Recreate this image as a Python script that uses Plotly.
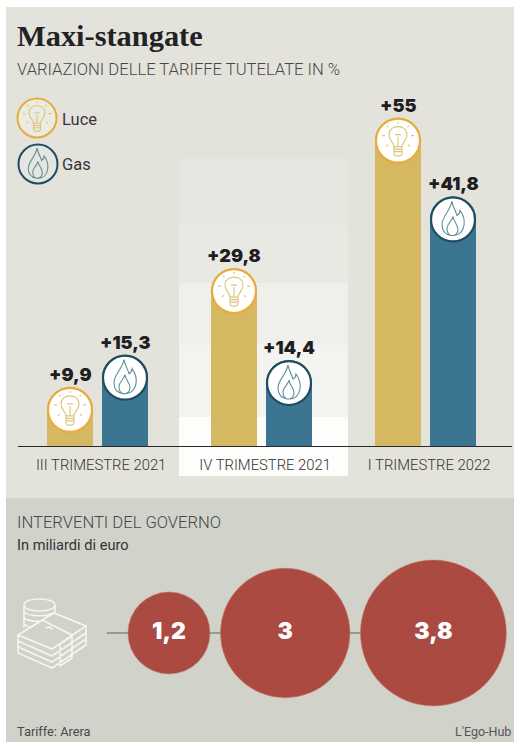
import re
import plotly.graph_objects as go

W, H = 514, 742

# Tariff changes, percent
quarters = ["III TRIMESTRE 2021", "IV TRIMESTRE 2021", "I TRIMESTRE 2022"]
luce = [9.9, 29.8, 55]
gas = [15.3, 14.4, 41.8]
luce_labels = ["+9,9", "+29,8", "+55"]
gas_labels = ["+15,3", "+14,4", "+41,8"]

# Government measures, billions of euro
measures = [1.2, 3, 3.8]
measure_labels = ["1,2", "3", "3,8"]

INK = "#26262a"
GOLD, GOLD_RING, GOLD_ICON = "#d6b862", "#e8ab3c", "#dcc578"
TEAL, TEAL_RING, TEAL_ICON = "#3b7591", "#1f4c62", "#5f8f9c"
SANS = "Roboto"
HEAVY = "Inter"

# Vertical scale of the bar axis and horizontal spacing of the groups, in pixels
PX_PER_POINT = 5.97
BASELINE = 446
GROUP_STEP = 164
GROUP0 = 97.5
BAR_OFFSET = 27.5 / GROUP_STEP
BAR_WIDTH = 46 / GROUP_STEP


def local_path(d, scale=1.0, dx=0.0, dy=0.0, flip=True):
    """Scale an icon path; y is written downward and flipped for pixel-sized shapes."""
    out = []
    for token in re.findall(r"[MLCQZ]|-?\d+\.?\d*", d):
        if token in "MLCQZ":
            out.append([token, []])
        else:
            out[-1][1].append(float(token))
    parts = []
    for cmd, nums in out:
        pts = []
        for i in range(0, len(nums), 2):
            px = nums[i] * scale + dx
            py = nums[i + 1] * scale + dy
            pts.append(f"{px:.2f},{-py if flip else py:.2f}")
        parts.append(cmd + " ".join(pts))
    return " ".join(parts)


BULB = (
    "M-4,6 C-4,2 -9,0 -9,-6 C-9,-12 -4,-14 0,-14 C4,-14 9,-12 9,-6 C9,0 4,2 4,6 Z "
    "M-4,6 L-4,13 C-4,16 4,16 4,13 L4,6 "
    "M-4,8.5 L4,8.5 M-4,11 L4,11 "
    "M0,6 L0,-4 M-3,-6 L3,-6 "
    "M0,-19 L0,-17 M-11,-15 L-9.5,-13.5 M11,-15 L9.5,-13.5 "
    "M-16,-5 L-13,-5 M16,-5 L13,-5 M-12,6 L-10,4 M12,6 L10,4"
)
FLAME = (
    "M-1,-18 C0,-12 3,-8 4,-4 C6,-5 7,-7 7,-9 C10,-5 12,0 11,6 C10,12 6,16 1,16 "
    "L-2,16 C-8,15 -11,11 -11,5 C-11,-3 -3,-8 -1,-18 Z "
    "M0,-3 C0,1 5,5 5,10 C5,13 3,15 1,16 M-2,16 C-5,15 -6,12 -6,9 C-6,4 -1,2 0,-3"
)


def badge(xref, yref, x, y, radius, fill, ring, ring_w, icon, icon_color, offset, scale):
    """A ringed circle plus a line icon, sized in pixels around an anchor point."""
    common = dict(xref=xref, yref=yref, xsizemode="pixel", ysizemode="pixel",
                  xanchor=x, yanchor=y, layer="above")
    return [
        dict(type="circle", x0=-radius, x1=radius, y0=offset - radius, y1=offset + radius,
             fillcolor=fill, line=dict(color=ring, width=ring_w), **common),
        dict(type="path", path=local_path(icon, scale, 0, -offset),
             line=dict(color=icon_color, width=1.1), **common),
    ]


def page_rect(x0, y0, x1, y1, color):
    return dict(type="rect", xref="paper", yref="paper", layer="below",
                x0=x0 / W, x1=x1 / W, y0=1 - y1 / H, y1=1 - y0 / H,
                fillcolor=color, line=dict(width=0))


def page_text(x, y, text, size, color=INK, family=SANS, anchor="left", weight=400):
    return dict(xref="paper", yref="paper", x=x / W, y=1 - y / H, text=text, showarrow=False,
                xanchor=anchor, yanchor="middle", borderpad=0,
                font=dict(family=family, size=size, color=color, weight=weight))


group_x = list(range(len(quarters)))
luce_x = [g - BAR_OFFSET for g in group_x]
gas_x = [g + BAR_OFFSET for g in group_x]

fig = go.Figure()
fig.add_bar(x=luce_x, y=luce, width=BAR_WIDTH, marker=dict(color=GOLD, cornerradius=23, line_width=0),
            name="Luce", xaxis="x", yaxis="y")
fig.add_bar(x=gas_x, y=gas, width=BAR_WIDTH, marker=dict(color=TEAL, cornerradius=23, line_width=0),
            name="Gas", xaxis="x", yaxis="y")

# Bubble row: area proportional to the amount, circles laid side by side
RADIUS_PER_SQRT = 37.4
radii = [RADIUS_PER_SQRT * v ** 0.5 for v in measures]
bubble_x, edge = [], 128
for r in radii:
    bubble_x.append(edge + r)
    edge += 2 * r + 10.5

fig.add_scatter(x=[107, bubble_x[-1]], y=[0, 0], mode="lines", xaxis="x2", yaxis="y2",
                line=dict(color="#85867c", width=1.4), hoverinfo="skip")
fig.add_scatter(x=bubble_x, y=[0] * len(measures), mode="markers+text", xaxis="x2", yaxis="y2",
                marker=dict(size=measures, sizemode="area", sizeref=1 / (2 * RADIUS_PER_SQRT ** 2),
                            opacity=1, color="#aa4a40", line=dict(color="#c4766a", width=0.6)),
                text=measure_labels, textposition="middle center",
                textfont=dict(family=HEAVY, size=23, color="white", weight=900))

shapes = [
    page_rect(6, 7, W, 498, "#e3e3dc"),
    page_rect(6, 498, W, H, "#d1d2ca"),
    page_rect(179, 158, 348, 225, "#e6e6e0"),
    page_rect(179, 225, 348, 283, "#e9e9e4"),
    page_rect(179, 283, 348, 345, "#efefeb"),
    page_rect(179, 345, 348, 417, "#f3f3f0"),
    page_rect(179, 417, 348, 476, "#fdfdfc"),
]

annotations = [
    page_text(16, 36, "Maxi-stangate", 30.4, "#222226", "Liberation Serif", weight=700),
    page_text(16, 70, "VARIAZIONI DELLE TARIFFE TUTELATE IN %", 16.6, "#47474a", weight=300),
    page_text(61, 120, "Luce", 16.5, "#36363a"),
    page_text(61, 165, "Gas", 16.5, "#36363a"),
    page_text(16, 522, "INTERVENTI DEL GOVERNO", 16.6, "#47474a", weight=300),
    page_text(16, 545, "In miliardi di euro", 14.6, "#333336"),
    page_text(16, 731, "Tariffe: Arera", 12.8, "#4a4a4c"),
    page_text(512, 731, "L'Ego-Hub", 12.5, "#55555a", anchor="right"),
]

# Legend badges, placed on the page
shapes += badge("paper", "paper", 37 / W, 1 - 118 / H, 19.5, "#ecebe3", GOLD_RING, 2,
                BULB, GOLD_ICON, 0, 0.88)
shapes += badge("paper", "paper", 38 / W, 1 - 164 / H, 19.5, "#e6e6e0", TEAL_RING, 2,
                FLAME, TEAL_ICON, 0, 0.88)

# Badges and labels sit on the top of each bar
for xs, ys, labels, ring, icon, icon_color in [
    (luce_x, luce, luce_labels, GOLD_RING, BULB, GOLD_ICON),
    (gas_x, gas, gas_labels, TEAL_RING, FLAME, TEAL_ICON),
]:
    for x, y, label in zip(xs, ys, labels):
        shapes += badge("x", "y", x, y, 22, "white", ring, 2.2, icon, icon_color, -23, 1)
        annotations.append(dict(x=x, y=y, xref="x", yref="y", text=label, showarrow=False,
                                yanchor="bottom", yshift=0,
                                font=dict(family=HEAVY, size=18, color="#1e1e22", weight=900)))

# Stack of coins and banknotes, white outline
MONEY = (
    "M24,605 C24,597 55,597 55,605 C55,613 24,613 24,605 Z "
    "M24,605 L24,628 M55,605 L55,613 "
    "M24,612 C30,617 48,617 55,612 M24,618 C28,621 36,622 42,621 M24,624 C26,626 29,627 32,627 "
    "M18,635 L54,613 L86,626 L52,649 Z "
    "M42,620 L72,635 "
    "M18,635 L18,641 L52,656 L86,633 L86,626 "
    "M18,641 L18,647 L52,662 L86,639 L86,633 "
    "M18,647 L18,653 L52,668 L86,645 L86,639 "
    "M60,644 L72,636 L72,658 L60,666 Z "
    "M46,628 C49,626 53,628 52,630"
)
shapes.append(dict(type="path", xref="paper", yref="paper", layer="above", xsizemode="pixel",
                   ysizemode="pixel", xanchor=0, yanchor=1, path=local_path(MONEY),
                   line=dict(color="#f6f6f1", width=1.6)))

fig.update_layout(
    width=W, height=H, margin=dict(l=0, r=0, t=0, b=0), autosize=False,
    paper_bgcolor="white", plot_bgcolor="rgba(0,0,0,0)", showlegend=False,
    barmode="overlay", shapes=shapes, annotations=annotations,
    xaxis=dict(domain=[18 / W, 512 / W],
               range=[(18 - GROUP0) / GROUP_STEP, (512 - GROUP0) / GROUP_STEP],
               tickvals=[g + 0.022 for g in group_x], ticktext=quarters,
               showgrid=False, zeroline=False, showline=True, linecolor="#2a2a2a", linewidth=1.2,
               ticks="", ticklabelstandoff=5,
               tickfont=dict(family=SANS, size=14.8, color="#333336", weight=300)),
    yaxis=dict(domain=[1 - BASELINE / H, 1], range=[0, BASELINE / PX_PER_POINT],
               visible=False),
    xaxis2=dict(domain=[0, 1], range=[0, W], visible=False),
    yaxis2=dict(domain=[0, 1], range=[-(H - 633), 633], visible=False),
)

fig.write_html("out.html")
